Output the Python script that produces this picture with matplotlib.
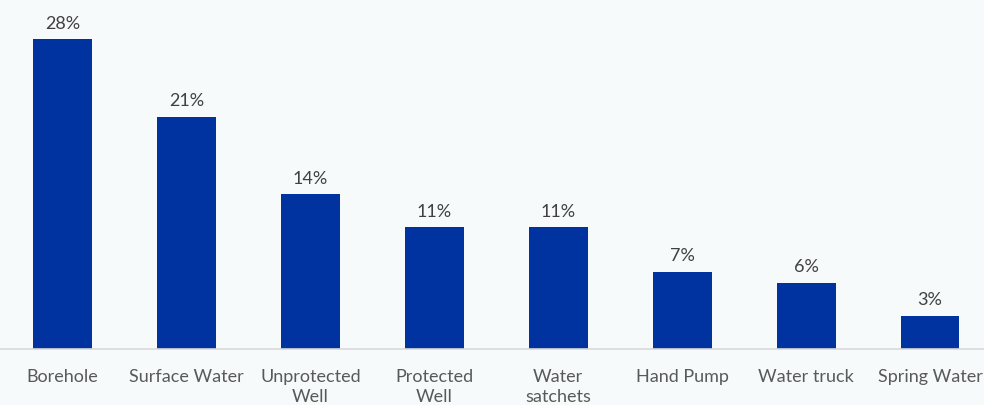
import numpy as np
import matplotlib as mpl
from matplotlib import pyplot as plt

# Wasserquellen und Anteile in Prozent
quellen = ["Borehole", "Surface Water", "Unprotected\nWell", "Protected\nWell",
           "Water\nsatchets", "Hand Pump", "Water truck", "Spring Water"]
anteile = [28, 21, 14, 11, 11, 7, 6, 3]
beschriftung = ["28%", "21%", "14%", "11%", "11%", "7%", "6%", "3%"]

hintergrund = "#F7FAFA"
balken_farbe = "#0033A0"

mpl.rcParams["font.family"] = ["Lato", "DejaVu Sans"]

fig = plt.figure(figsize=(9.84, 4.06), dpi=100, facecolor=hintergrund)
ax = fig.add_axes([0, 56 / 406, 1, 350 / 406], facecolor=hintergrund)

x = np.arange(len(quellen))
ax.bar(x, anteile, width=0.475, color=balken_farbe, zorder=2)

for xi, wert, text in zip(x, anteile, beschriftung):
    ax.text(xi, wert + 0.75, text, ha="center", va="bottom",
            fontsize=13, color="#404040")

ax.set_xlim(-0.5 - 0.5 / 124, -0.5 + 984 / 124)
ax.set_ylim(0, 350 / 11.07)

ax.set_xticks(x)
ax.set_xticklabels(quellen, fontsize=13, color="#595959", linespacing=1.3)
ax.tick_params(axis="x", length=0, pad=14)
ax.set_yticks([])

for seite in ["top", "left", "right"]:
    ax.spines[seite].set_visible(False)
ax.spines["bottom"].set_color("#D9D9D9")
ax.spines["bottom"].set_linewidth(1.2)

fig.savefig("out.png", dpi=100, facecolor=hintergrund)
